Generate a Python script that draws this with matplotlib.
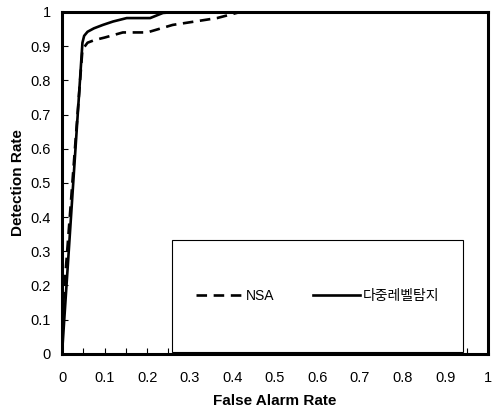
import numpy as np
import matplotlib.pyplot as plt
from matplotlib.patches import Rectangle

plt.rcParams['font.family'] = ['Liberation Sans', 'Noto Sans CJK KR', 'DejaVu Sans']

# ROC curves
nsa_far = [0, 0.003, 0.048, 0.06, 0.077, 0.1, 0.143, 0.2, 0.26, 0.307, 0.364, 0.41, 0.42, 1.0]
nsa_dr = [0, 0.15, 0.89, 0.91, 0.918, 0.925, 0.94, 0.94, 0.962, 0.971, 0.982, 0.997, 1.0, 1.0]

multi_far = [0, 0.048, 0.052, 0.06, 0.075, 0.096, 0.12, 0.152, 0.207, 0.237, 0.27, 0.3, 1.0]
multi_dr = [0, 0.91, 0.93, 0.942, 0.952, 0.962, 0.972, 0.982, 0.982, 0.997, 1.0, 1.0, 1.0]

xticks = np.arange(0, 1.0001, 0.05)
xlabels = ['0' if i == 0 else ('1' if i == 20 else ('%.1f' % (i * 0.05) if i % 2 == 0 else '')) for i in range(21)]
yticks = np.arange(0, 1.0001, 0.1)
ylabels = ['0'] + ['%.1f' % v for v in yticks[1:-1]] + ['1']

fig = plt.figure(figsize=(4.98, 4.11), dpi=100)
ax = fig.add_axes([0.1245, 0.139, 0.855, 0.832])

ax.plot(nsa_far, nsa_dr, color='black', lw=1.9, linestyle=(0, (4, 2.5)), label='NSA')
ax.plot(multi_far, multi_dr, color='black', lw=1.9, label='다중레벨탐지')

ax.set_xlim(0, 1)
ax.set_ylim(0, 1)
ax.set_xticks(xticks)
ax.set_xticklabels(xlabels)
ax.set_yticks(yticks)
ax.set_yticklabels(ylabels)
ax.tick_params(direction='in', length=4, width=0.8, labelsize=10.5)
ax.tick_params(axis='x', pad=12)
ax.tick_params(axis='y', pad=8)
for s in ax.spines.values():
    s.set_linewidth(2.2)

ax.set_xlabel('False Alarm Rate', fontsize=11, fontweight='bold', labelpad=7)
ax.set_ylabel('Detection Rate', fontsize=11, fontweight='bold', labelpad=4)

# legend box
ax.add_patch(Rectangle((0.258, 0.006), 0.683, 0.327, transform=ax.transAxes,
                       fill=True, facecolor='white', edgecolor='black', lw=0.8, zorder=3))
leg = ax.legend(loc='center', bbox_to_anchor=(0.6, 0.17), ncol=2, frameon=False,
                fontsize=10, handlelength=3.4, handletextpad=0.2, columnspacing=2.8)
leg.set_zorder(4)

plt.savefig('out.png', dpi=100)
